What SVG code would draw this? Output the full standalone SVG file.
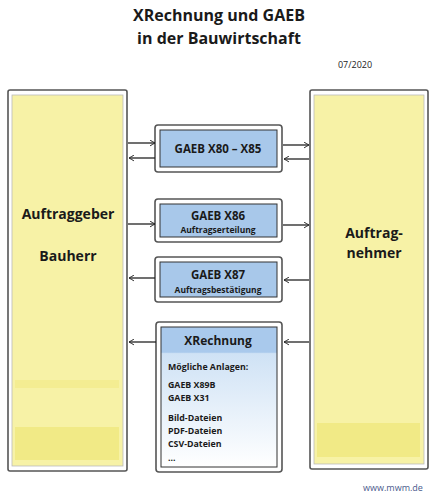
<svg xmlns="http://www.w3.org/2000/svg" width="438" height="500" viewBox="0 0 438 500">
<defs>
<style>
.t{font-family:"Open Sans","Liberation Sans",sans-serif;font-weight:bold;fill:#1a1a1a;text-anchor:middle}
.l{font-family:"Open Sans","Liberation Sans",sans-serif;font-weight:bold;fill:#1a1a1a}
.outer{fill:#fff;stroke:#555;stroke-width:1.6}
.inY{fill:#f7f2a6;stroke:#bbb;stroke-width:0.8}
.band{fill:#f1ea86}
.inB{fill:#a8c8ea;stroke:#333;stroke-width:1}
.c{stroke:#222;stroke-width:1.3;fill:none;marker-end:url(#a)}
</style>
<marker id="a" viewBox="0 0 10 10" refX="9" refY="5" markerWidth="7" markerHeight="7" orient="auto" markerUnits="userSpaceOnUse">
<path d="M2,1 Q9,5 9,5 Q9,5 2,9" fill="none" stroke="#222" stroke-width="1.4"/>
</marker>
<linearGradient id="gx" x1="0" y1="0" x2="0" y2="1">
<stop offset="0" stop-color="#a9c9ec"/>
<stop offset="0.18" stop-color="#a9c9ec"/>
<stop offset="0.19" stop-color="#cfe2f5"/>
<stop offset="1" stop-color="#ffffff"/>
</linearGradient>
</defs>
<rect width="438" height="500" fill="#fff"/>
<text class="t" x="219" y="21" font-size="16">XRechnung und GAEB</text>
<text class="t" x="219" y="44" font-size="16">in der Bauwirtschaft</text>
<text x="355" y="68" font-size="9" font-family="'Open Sans','Liberation Sans',sans-serif" fill="#222" text-anchor="middle">07/2020</text>

<g id="auftraggeber">
<rect class="outer" x="8" y="90" width="119" height="381" rx="2"/>
<rect class="inY" x="12" y="95" width="111" height="371"/>
<rect class="band" x="15" y="380" width="104" height="8" opacity="0.6"/>
<rect class="band" x="15" y="427" width="104" height="33"/>
<text class="t" x="68" y="219" font-size="14">Auftraggeber</text>
<text class="t" x="68" y="261" font-size="14">Bauherr</text>
</g>

<g id="auftragnehmer">
<rect class="outer" x="310" y="90" width="118" height="379" rx="2"/>
<rect class="inY" x="314" y="95" width="110" height="369"/>
<rect class="band" x="317" y="423" width="103" height="34"/>
<text class="t" x="374" y="238" font-size="14">Auftrag-</text>
<text class="t" x="374" y="258" font-size="14">nehmer</text>
</g>

<g id="gaeb-x80-x85">
<rect class="outer" x="155" y="125" width="127" height="47" rx="3"/>
<rect class="inB" x="160" y="130" width="117" height="37"/>
<text class="t" x="218" y="153" font-size="11.5">GAEB X80 – X85</text>
</g>

<g id="gaeb-x86">
<rect class="outer" x="155" y="199" width="127" height="43" rx="3"/>
<rect class="inB" x="160" y="204" width="117" height="33"/>
<text class="t" x="218" y="220" font-size="11.5">GAEB X86</text>
<text class="t" x="218" y="233" font-size="8.5">Auftragserteilung</text>
</g>

<g id="gaeb-x87">
<rect class="outer" x="155" y="257" width="127" height="45" rx="3"/>
<rect class="inB" x="160" y="262" width="117" height="35"/>
<text class="t" x="218" y="279" font-size="11.5">GAEB X87</text>
<text class="t" x="218" y="293" font-size="8.5">Auftragsbestätigung</text>
</g>

<g id="xrechnung">
<rect class="outer" x="156" y="322" width="126" height="150" rx="3"/>
<rect x="161" y="327" width="116" height="140" fill="url(#gx)" stroke="#333" stroke-width="1"/>
<text class="t" x="218" y="345" font-size="12">XRechnung</text>
<text class="l" x="168" y="370" font-size="8.8">Mögliche Anlagen:</text>
<text class="l" x="168" y="388" font-size="8.8">GAEB X89B</text>
<text class="l" x="168" y="401" font-size="8.8">GAEB X31</text>
<text class="l" x="168" y="421" font-size="8.8">Bild-Dateien</text>
<text class="l" x="168" y="434" font-size="8.8">PDF-Dateien</text>
<text class="l" x="168" y="447" font-size="8.8">CSV-Dateien</text>
<text class="l" x="168" y="461" font-size="8.8">...</text>
</g>

<g id="connectors">
<line class="c" x1="128" y1="143" x2="155" y2="143"/>
<line class="c" x1="155" y1="158" x2="129" y2="158"/>
<line class="c" x1="283" y1="145" x2="309" y2="145"/>
<line class="c" x1="309" y1="159" x2="284" y2="159"/>
<line class="c" x1="128" y1="224" x2="155" y2="224"/>
<line class="c" x1="283" y1="225" x2="309" y2="225"/>
<line class="c" x1="155" y1="278" x2="129" y2="278"/>
<line class="c" x1="309" y1="280" x2="284" y2="280"/>
<line class="c" x1="156" y1="342" x2="129" y2="342"/>
<line class="c" x1="309" y1="342" x2="284" y2="342"/>
</g>

<text x="393" y="491" font-size="9" font-family="'Open Sans','Liberation Sans',sans-serif" fill="#4a5a8c" text-anchor="middle">www.mwm.de</text>
</svg>
